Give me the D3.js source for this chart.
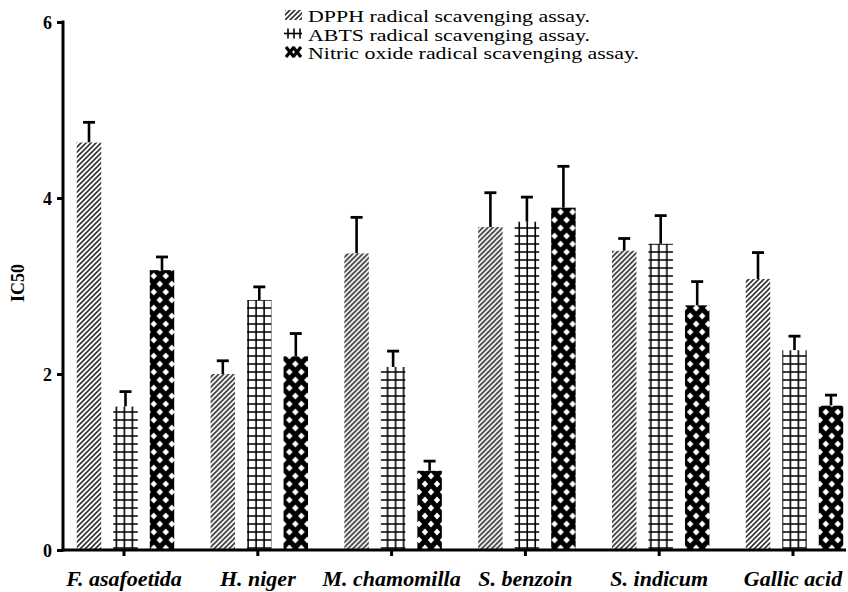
<!DOCTYPE html>
<html>
<head>
<meta charset="utf-8">
<script src="https://cdn.jsdelivr.net/npm/d3@7"></script>
<style>
  html, body { margin: 0; padding: 0; background: #fff; }
  svg { display: block; }
</style>
</head>
<body>
<svg id="chart" width="848" height="592"></svg>
<script>
// Plant extracts and reference compound
const categories = ["F. asafoetida", "H. niger", "M. chamomilla", "S. benzoin", "S. indicum", "Gallic acid"];

// IC50 means and upper error (SD) per assay
const dpph    = [4.63, 2.00, 3.37, 3.67, 3.40, 3.08];
const dpphErr = [0.23, 0.15, 0.41, 0.39, 0.14, 0.30];
const abts    = [1.63, 2.84, 2.08, 3.73, 3.48, 2.27];
const abtsErr = [0.17, 0.15, 0.18, 0.28, 0.32, 0.16];
const nitric    = [3.18, 2.20, 0.90, 3.89, 2.78, 1.64];
const nitricErr = [0.15, 0.26, 0.11, 0.47, 0.27, 0.12];

const seriesNames = ["DPPH radical scavenging assay.", "ABTS radical scavenging assay.", "Nitric oxide radical scavenging assay."];
const seriesKeys = ["dpph", "abts", "nitric"];
const yTicks = [0, 2, 4, 6];

const FONT = "'Liberation Serif', 'Times New Roman', Times, serif";

const series = [
  { key: "dpph", values: dpph, errors: dpphErr },
  { key: "abts", values: abts, errors: abtsErr },
  { key: "nitric", values: nitric, errors: nitricErr }
];

const svg = d3.select("#chart");
const defs = svg.append("defs");

// Scales
const x = d3.scaleBand().domain(categories).range([57.1, 859.9]).padding(0);
const xInner = d3.scaleBand().domain(seriesKeys).range([-53.25, 56.25]).paddingInner(0.33).paddingOuter(0.165);
const y = d3.scaleLinear().domain([0, 6]).range([550, 22]);
const axisX0 = 63;

// Fill patterns
function hatchPattern(id) {
  const p = defs.append("pattern").attr("id", id)
    .attr("patternUnits", "userSpaceOnUse").attr("width", 5).attr("height", 5);
  p.append("rect").attr("width", 5).attr("height", 5).attr("fill", "#fff");
  p.append("path").attr("d", "M-1,6 L6,-1 M-1,1 L1,-1 M4,6 L6,4")
    .attr("stroke", "#333").attr("stroke-width", 1.6);
}
function gridPattern(id, x0, y0) {
  const p = defs.append("pattern").attr("id", id)
    .attr("patternUnits", "userSpaceOnUse").attr("x", x0).attr("y", y0)
    .attr("width", 8).attr("height", 8);
  p.append("rect").attr("width", 8).attr("height", 8).attr("fill", "#fff");
  p.append("path").attr("d", "M7.2,0 V8 M0,4 H8")
    .attr("stroke", "#000").attr("stroke-width", 1.6);
}
function latticePattern(id, x0, y0) {
  const p = defs.append("pattern").attr("id", id)
    .attr("patternUnits", "userSpaceOnUse").attr("x", x0).attr("y", y0)
    .attr("width", 12).attr("height", 16);
  p.append("rect").attr("width", 12).attr("height", 16).attr("fill", "#000");
  const dia = (cx, cy) => `M${cx - 3.2},${cy} L${cx},${cy - 3.4} L${cx + 3.2},${cy} L${cx},${cy + 3.4} Z`;
  p.append("path")
    .attr("d", [dia(0, 0), dia(12, 0), dia(0, 16), dia(12, 16), dia(6, 8)].join(" "))
    .attr("fill", "#fff");
}

hatchPattern("hatch");
categories.forEach((c, i) => {
  const bx = x(c) + x.bandwidth() / 2;
  gridPattern("grid-" + i, bx + xInner("abts"), 0);
  latticePattern("lattice-" + i, bx + xInner("nitric"), 4);
});

function fillFor(key, i) {
  if (key === "dpph") return "url(#hatch)";
  if (key === "abts") return `url(#grid-${i})`;
  return `url(#lattice-${i})`;
}

// Bars with upper error bars
const groups = svg.append("g").selectAll("g")
  .data(categories).join("g")
  .attr("transform", d => `translate(${x(d) + x.bandwidth() / 2},0)`);

groups.each(function(cat, i) {
  const g = d3.select(this);
  series.forEach(s => {
    const v = s.values[i], e = s.errors[i];
    const bx = xInner(s.key), bw = xInner.bandwidth();
    const cx = bx + bw / 2;
    g.append("line").attr("x1", cx).attr("x2", cx)
      .attr("y1", y(v)).attr("y2", y(v + e))
      .attr("stroke", "#000").attr("stroke-width", 2.6);
    g.append("line").attr("x1", cx - 6).attr("x2", cx + 6)
      .attr("y1", y(v + e)).attr("y2", y(v + e))
      .attr("stroke", "#000").attr("stroke-width", 2.8);
    g.append("rect")
      .attr("x", bx).attr("width", bw)
      .attr("y", y(v)).attr("height", y(0) - y(v))
      .attr("fill", fillFor(s.key, i));
  });
});

// Y axis
const yAxis = d3.axisLeft(y).tickValues(yTicks).tickFormat(d3.format("d"))
  .tickSize(6).tickSizeOuter(0).tickPadding(5);
const gy = svg.append("g").attr("transform", `translate(${axisX0},0)`).call(yAxis);
gy.attr("font-family", FONT);
gy.select(".domain").attr("stroke-width", 3).attr("d", `M0,${y(6) - 1.5} V${y(0) + 1.5}`);
gy.selectAll(".tick line").attr("stroke-width", 3);
gy.selectAll(".tick text")
  .attr("font-family", FONT).attr("font-size", 18).attr("font-weight", "bold")
  .attr("dy", "0.34em");

// X axis
const xAxis = d3.axisBottom(x).tickSize(6).tickSizeOuter(0);
const gx = svg.append("g").attr("transform", `translate(0,${y(0)})`).call(xAxis);
gx.attr("font-family", FONT);
gx.select(".domain").attr("stroke-width", 3).attr("d", `M${axisX0 - 1.5},0 H846`);
gx.selectAll(".tick line").attr("stroke-width", 3);
gx.selectAll(".tick text")
  .attr("font-family", FONT).attr("font-size", 22).attr("font-weight", "bold")
  .attr("font-style", "italic")
  .attr("y", 36).attr("dy", 0);

// Y axis title
svg.append("text")
  .attr("transform", `translate(24,283) rotate(-90)`)
  .attr("text-anchor", "middle")
  .attr("font-family", FONT).attr("font-size", 18).attr("font-weight", "bold")
  .text("IC50");

// Legend
const legend = svg.append("g");
const legendY = [22, 40.5, 59];
const legendW = [282, 282, 331];
seriesKeys.forEach((k, i) => {
  const yb = legendY[i];
  if (k === "dpph") {
    legend.append("rect").attr("x", 285).attr("y", yb - 12).attr("width", 17).attr("height", 10)
      .attr("fill", "url(#hatch)");
  } else if (k === "abts") {
    const row = legend.append("g").attr("stroke", "#000").attr("stroke-width", 1.6);
    row.append("line").attr("x1", 284).attr("x2", 302).attr("y1", yb - 7).attr("y2", yb - 7);
    [288, 294, 300].forEach(px => row.append("line").attr("x1", px).attr("x2", px).attr("y1", yb - 12).attr("y2", yb - 2));
  } else {
    const xs = legend.append("g").attr("stroke", "#000").attr("stroke-width", 3.2);
    [[286, 294], [293, 301]].forEach(([a, b]) => {
      xs.append("line").attr("x1", a).attr("x2", b).attr("y1", yb - 12).attr("y2", yb - 2);
      xs.append("line").attr("x1", a).attr("x2", b).attr("y1", yb - 2).attr("y2", yb - 12);
    });
  }
  legend.append("text").attr("x", 308).attr("y", yb)
    .attr("font-family", FONT).attr("font-size", 16.5)
    .attr("textLength", legendW[i]).attr("lengthAdjust", "spacingAndGlyphs")
    .text(seriesNames[i]);
});
</script>
</body>
</html>
